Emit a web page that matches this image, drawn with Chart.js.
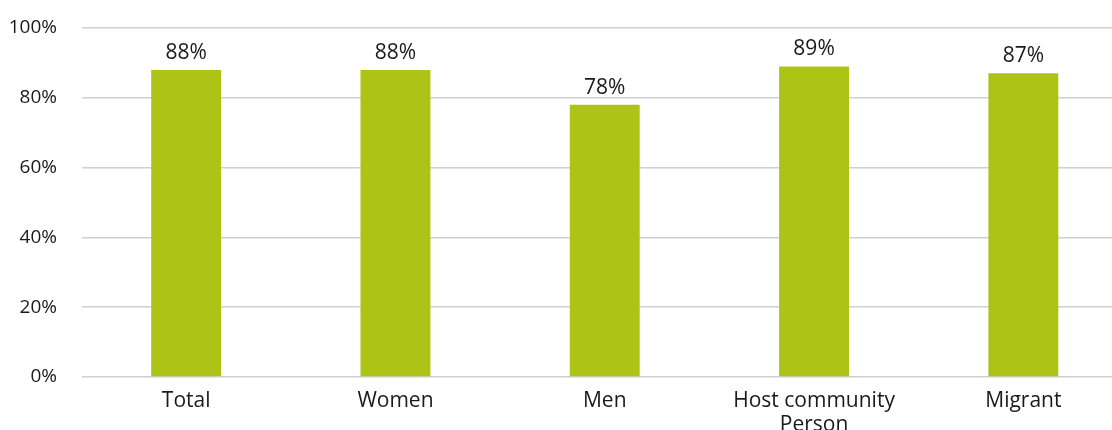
<!DOCTYPE html>
<html>
<head>
<meta charset="utf-8">
<script src="https://cdn.jsdelivr.net/npm/chart.js@4/dist/chart.umd.min.js"></script>
<style>
  html, body { margin: 0; padding: 0; background: #fff; overflow: hidden; }
  /* the plot runs slightly past the right edge of the window */
  #wrap { width: 1128px; height: 430px; position: relative; }
</style>
</head>
<body>
<div id="wrap"><canvas id="chart"></canvas></div>
<script>
// Share of respondents per group (percent)
const categories = ['Total', 'Women', 'Men', ['Host community', 'Person'], 'Migrant'];
const shares = [88, 88, 78, 89, 87];
const yTickStep = 20;
const yMax = 100;

const FONT = '"Open Sans", Lato, "DejaVu Sans", sans-serif';
const TEXT = '#1a1a1a';
const BAR = '#adc416';

// Writes the value above each bar, positioned from the bar element itself
const valueLabels = {
  id: 'valueLabels',
  afterDatasetsDraw(chart) {
    const { ctx } = chart;
    const meta = chart.getDatasetMeta(0);
    ctx.save();
    ctx.font = '21px ' + FONT;
    ctx.fillStyle = TEXT;
    ctx.textAlign = 'center';
    ctx.textBaseline = 'alphabetic';
    meta.data.forEach((bar, i) => {
      ctx.fillText(shares[i] + '%', bar.x, bar.y - 11);
    });
    ctx.restore();
  }
};

new Chart(document.getElementById('chart'), {
  type: 'bar',
  data: {
    labels: categories,
    datasets: [{
      data: shares,
      backgroundColor: BAR,
      borderWidth: 0,
      categoryPercentage: 1,
      barPercentage: 0.334
    }]
  },
  options: {
    responsive: true,
    maintainAspectRatio: false,
    animation: false,
    layout: { padding: { top: 28, right: 0, bottom: 0, left: 0 } },
    plugins: {
      legend: { display: false },
      tooltip: { enabled: false }
    },
    scales: {
      x: {
        grid: { display: false },
        border: { display: false },
        ticks: {
          color: TEXT,
          padding: 4,
          maxRotation: 0,
          autoSkip: false,
          font: { family: FONT, size: 21, lineHeight: 1.15 }
        },
        afterFit(scale) { scale.height = 53; }
      },
      y: {
        min: 0,
        max: yMax,
        grid: { color: '#d0d0d0', lineWidth: 1.5, drawTicks: false },
        border: { display: false },
        ticks: {
          stepSize: yTickStep,
          color: TEXT,
          padding: 24.5,
          font: { family: FONT, size: 19 },
          callback: v => v + '%'
        },
        afterFit(scale) {
          scale.width = 81.5;
          // keep the tick gap from pushing the plot area down
          scale.paddingTop = 0;
          scale.paddingBottom = 0;
        }
      }
    }
  },
  plugins: [valueLabels]
});
</script>
</body>
</html>
